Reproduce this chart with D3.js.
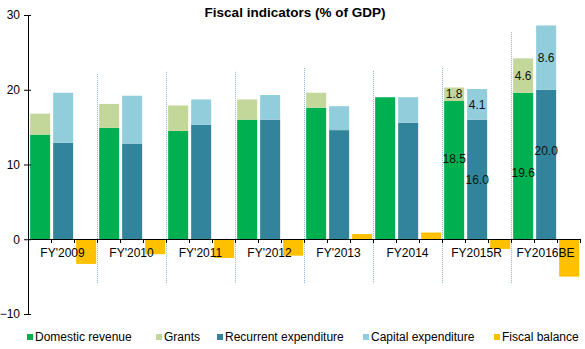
<!DOCTYPE html>
<html>
<head>
<meta charset="utf-8">
<script src="https://cdn.jsdelivr.net/npm/d3@7"></script>
<style>
  body { margin: 0; background: #fff; }
  text { font-family: "Liberation Sans", Arial, sans-serif; }
</style>
</head>
<body>
<div id="chart"></div>
<script>
// fiscal years on the category axis
var years = ["FY'2009", "FY'2010", "FY'2011", "FY'2012", "FY'2013", "FY2014", "FY2015R", "FY2016BE"];

// revenue side (stacked): domestic revenue + grants
var domesticRevenue = [14.0, 14.9, 14.5, 16.0, 17.6, 19.0, 18.5, 19.6];
var grants = [2.8, 3.2, 3.4, 2.7, 2.0, 0, 1.8, 4.6];

// expenditure side (stacked): recurrent + capital
var recurrentExp = [12.9, 12.8, 15.3, 16.0, 14.6, 15.6, 16.0, 20.0];
var capitalExp = [6.7, 6.4, 3.4, 3.3, 3.2, 3.4, 4.1, 8.6];

var fiscalBalance = [-3.3, -2.0, -2.5, -2.2, 0.7, 0.9, -1.3, -5.0];

// only the last two years carry value labels
var labelledYears = ["FY2015R", "FY2016BE"];

var yTicks = [-10, 0, 10, 20, 30];

var seriesNames = ["Domestic revenue", "Grants", "Recurrent expenditure", "Capital expenditure", "Fiscal balance"];
var colors = ["#00B050", "#C4D79B", "#31849B", "#92CDDC", "#FFC000"];

// top of the dotted separator drawn at the left edge of each year (from 2nd on)
var sepTop = [22.1, 22.4, 22.4, 22.9, 22.5, 22.9, 27.7];

var svgWidth = 585;
var svgHeight = 349;

var svg = d3
  .select("#chart")
  .append("svg")
  .attr("width", svgWidth)
  .attr("height", svgHeight);

var x = d3.scaleBand().domain(years).range([28, 580]);
var y = d3.scaleLinear().domain([-10, 30]).range([314, 15]);

var slot = x.bandwidth() / 3;
var barW = slot * 0.87;
var barOff = slot * 0.05;

// title
svg
  .append("text")
  .attr("x", 295)
  .attr("y", 17)
  .attr("text-anchor", "middle")
  .style("font-size", "13.5px")
  .style("font-weight", "bold")
  .text("Fiscal indicators (% of GDP)");

// separators between years
svg
  .append("g")
  .selectAll("line")
  .data(years.slice(1))
  .enter()
  .append("line")
  .attr("x1", (d) => x(d) + 0.5)
  .attr("x2", (d) => x(d) + 0.5)
  .attr("y1", (d, i) => y(sepTop[i]))
  .attr("y2", y(-5.9))
  .attr("stroke", "#8EB4DA")
  .attr("stroke-width", 1)
  .attr("stroke-dasharray", "1,1");

// build stacked segments: [year index, slot, base, value, series]
var segments = [];
years.forEach(function (yr, i) {
  segments.push({ yr: yr, slot: 0, base: 0, v: domesticRevenue[i], s: 0 });
  segments.push({ yr: yr, slot: 0, base: domesticRevenue[i], v: grants[i], s: 1 });
  segments.push({ yr: yr, slot: 1, base: 0, v: recurrentExp[i], s: 2 });
  segments.push({ yr: yr, slot: 1, base: recurrentExp[i], v: capitalExp[i], s: 3 });
  segments.push({ yr: yr, slot: 2, base: 0, v: fiscalBalance[i], s: 4 });
});

svg
  .append("g")
  .selectAll("rect")
  .data(segments.filter((d) => d.v !== 0))
  .enter()
  .append("rect")
  .attr("x", (d) => x(d.yr) + d.slot * slot + barOff + 1)
  .attr("width", barW)
  .attr("y", (d) => y(Math.max(d.base, d.base + d.v)))
  .attr("height", (d) => Math.abs(y(d.base) - y(d.base + d.v)))
  .attr("fill", (d) => colors[d.s]);

// value labels, some nudged off centre
var nudge = { "FY2015R-0": -11, "FY2016BE-0": 7, "FY2016BE-2": -14 };

svg
  .append("g")
  .selectAll("text")
  .data(segments.filter((d) => labelledYears.indexOf(d.yr) >= 0 && d.s < 4))
  .enter()
  .append("text")
  .attr("x", (d) => x(d.yr) + d.slot * slot + barOff + 1 + barW / 2)
  .attr("y", (d) => (y(d.base) + y(d.base + d.v)) / 2 + (nudge[d.yr + "-" + d.s] || 0))
  .attr("dy", "0.35em")
  .attr("text-anchor", "middle")
  .style("font-size", "12px")
  .attr("fill", "#111")
  .text((d) => d.v.toFixed(1));

// y axis, ticks crossing the line
var yAxis = svg
  .append("g")
  .attr("transform", "translate(28,0)")
  .call(d3.axisLeft(y).tickValues(yTicks).tickSize(4).tickPadding(4));
yAxis.select(".domain").attr("stroke", "#000");
yAxis.selectAll(".tick line").attr("x1", 3).attr("stroke", "#000");
yAxis.selectAll(".tick text").style("font-size", "12px").style("font-family", "Liberation Sans, Arial, sans-serif").attr("fill", "#000");

// zero line with a tick at every slot boundary
var slotEdges = d3.range(years.length * 3 + 1).map((k) => 28 + k * slot);
svg
  .append("line")
  .attr("x1", 28)
  .attr("x2", 580)
  .attr("y1", Math.round(y(0)) + 0.5)
  .attr("y2", Math.round(y(0)) + 0.5)
  .attr("stroke", "#000");
svg
  .append("g")
  .selectAll("line")
  .data(slotEdges)
  .enter()
  .append("line")
  .attr("x1", (d) => Math.round(d) + 0.5)
  .attr("x2", (d) => Math.round(d) + 0.5)
  .attr("y1", Math.round(y(0)))
  .attr("y2", Math.round(y(0)) + 4)
  .attr("stroke", "#000");

// category labels
svg
  .append("g")
  .selectAll("text")
  .data(years)
  .enter()
  .append("text")
  .attr("x", (d) => x(d) + x.bandwidth() / 2)
  .attr("y", 257)
  .attr("text-anchor", "middle")
  .style("font-size", "12px")
  .text((d) => d);

// legend
var legendX = [27, 156, 217, 363, 494];
var legend = svg
  .append("g")
  .selectAll("g")
  .data(seriesNames)
  .enter()
  .append("g")
  .attr("transform", (d, i) => `translate(${legendX[i]}, 337)`);
legend
  .append("rect")
  .attr("x", 0)
  .attr("y", -3)
  .attr("width", 6)
  .attr("height", 6)
  .attr("fill", (d, i) => colors[i]);
legend
  .append("text")
  .attr("x", 8)
  .attr("dy", "0.35em")
  .style("font-size", "12px")
  .text((d) => d);
</script>
</body>
</html>
